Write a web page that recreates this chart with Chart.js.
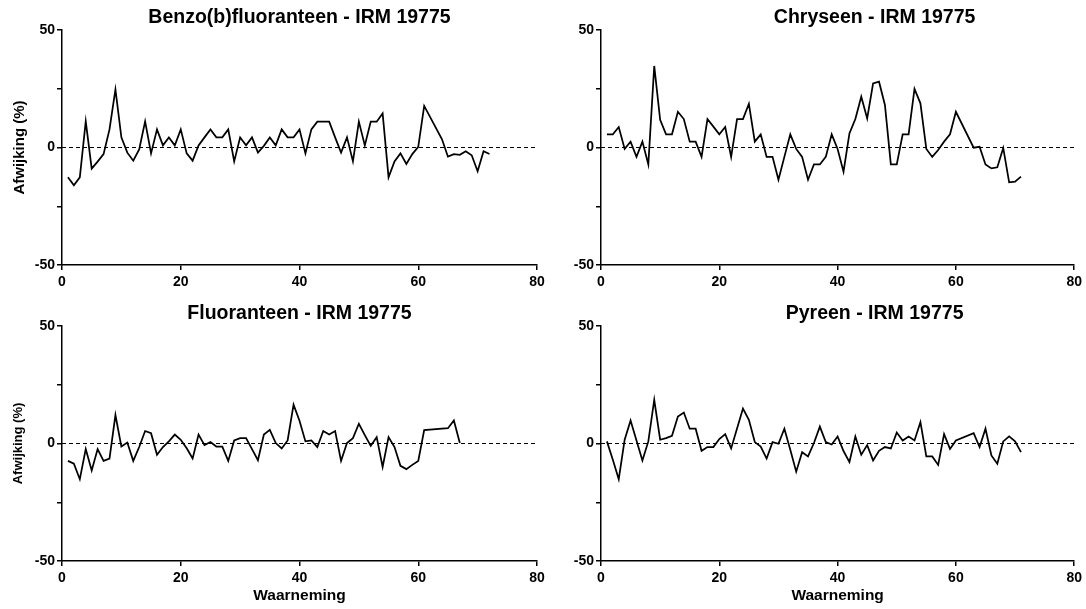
<!DOCTYPE html>
<html>
<head>
<meta charset="utf-8">
<title>Afwijking IRM 19775</title>
<script src="https://cdn.jsdelivr.net/npm/chart.js@4.4.0/dist/chart.umd.min.js"></script>
<style>
  html, body { margin: 0; padding: 0; background: #fff; }
  #wrap { position: relative; width: 1086px; height: 609px; overflow: hidden; }
  #wrap canvas { position: absolute; }
</style>
</head>
<body>
<div id="wrap">
  <canvas id="benzo" width="560" height="300" style="left:0;top:0"></canvas>
  <canvas id="chryseen" width="546" height="300" style="left:540px;top:0"></canvas>
  <canvas id="fluoranteen" width="560" height="313" style="left:0;top:296px"></canvas>
  <canvas id="pyreen" width="546" height="313" style="left:540px;top:296px"></canvas>
</div>
<script>
  'use strict';

  // Afwijking (%) per waarneming; null = geen meting
  var benzoValues = [
    -12.7, -16.1, -12.7, 11.1, -9.0, -6.0, -2.8, 7.7, 24.7, 4.3,
    -2.2, -5.6, -0.8, 11.1, -2.5, 7.7, 0.9, 4.3, 0.9, 7.7,
    -2.5, -5.6, 0.9, 4.3, 7.7, 4.3, 4.3, 7.7, -5.9, 4.3,
    0.9, 4.3, -2.2, 0.7, 4.3, 0.9, 7.7, 4.3, 4.3, 7.7,
    -2.5, 7.7, 11.0, 11.0, 11.0, 4.3, -2.2, 4.3, -5.9, 11.0,
    0.9, 11.0, 11.0, 14.5, -12.7, -5.9, -2.5, -7.0, -2.8, 0.3,
    17.7, null, null, 3.5, -3.9, -2.8, -3.1, -1.6, -3.3, -10.1,
    -1.6, -2.8
  ];
  var chryseenValues = [
    5.6, 5.6, 8.7, -0.6, 2.5, -4.0, 2.5, -7.2, 34.7, 11.8,
    5.6, 5.6, 15.2, 12.1, 2.5, 2.5, -4.0, 12.1, 8.9, 5.6,
    8.7, -4.0, 12.1, 12.1, 18.6, 2.5, 5.6, -4.0, -4.0, -13.7,
    -4.0, 5.6, -0.6, -4.0, -13.7, -7.2, -7.2, -4.0, 5.6, -0.6,
    -10.3, 6.0, 12.1, 21.6, 12.4, 27.3, 28.0, 18.1, -7.2, -7.2,
    5.6, 5.6, 24.9, 18.8, -0.6, -4.0, -1.1, 2.5, 5.6, 15.2,
    null, null, -0.1, 0.3, -7.2, -8.9, -8.4, -0.2, -14.8, -14.5,
    -12.4
  ];
  var fluoranteenValues = [
    -7.4, -8.6, -15.2, -2.4, -11.5, -2.4, -7.4, -6.4, 12.1, -1.3,
    0.4, -7.4, -1.5, 5.3, 4.4, -4.8, -1.5, 0.9, 3.8, 1.6,
    -2.0, -6.4, 3.8, -0.7, 0.6, -1.3, -1.3, -7.4, 1.3, 2.3,
    2.3, -2.4, -7.1, 3.8, 5.8, 0.2, -2.1, 1.3, 16.5, 9.7,
    0.9, 1.3, -1.5, 5.3, 3.8, 5.3, -7.4, 0.2, 2.3, 8.4,
    3.6, -1.0, 2.7, -10.0, 2.7, -1.5, -9.5, -10.9, -9.1, -7.4,
    5.7, null, null, null, 6.5, 9.8, 0.2
  ];
  var pyreenValues = [
    0.9, -6.9, -15.2, 1.6, 9.8, 1.3, -7.2, 0.9, 18.6, 1.6,
    2.3, 3.3, 11.5, 13.2, 6.3, 6.3, -3.1, -1.5, -1.5, 1.9,
    4.0, -2.1, 6.4, 14.9, 10.1, 0.6, -1.3, -6.4, 0.6, -0.1,
    6.3, -2.7, -12.0, -3.7, -5.5, 0.2, 7.2, 0.6, -0.4, 3.0,
    -3.2, -7.9, 3.0, -4.8, -0.7, -7.2, -3.1, -1.5, -2.1, 4.7,
    1.3, 3.0, 1.3, 9.1, -5.5, -5.5, -9.1, 4.0, -2.3, 1.3,
    null, null, 4.4, -1.5, 6.3, -5.1, -8.6, 0.9, 3.0, 0.9,
    -3.7
  ];

  var xTicks = [0, 20, 40, 60, 80];
  var yTicks = [-50, 0, 50];

  var FONT = "'Liberation Sans', Arial, Helvetica, sans-serif";

  // observation numbers start at 1
  function toPoints(values) {
    return values.map(function (v, i) {
      return {x: i + 1, y: v};
    });
  }

  // moves the title block sideways after layout (px)
  var titleShift = {
    id: 'titleShift',
    afterLayout: function (chart, args, options) {
      var dx = options.dx || 0;
      if (chart.titleBlock && dx) {
        chart.titleBlock.left += dx;
        chart.titleBlock.right += dx;
      }
    }
  };

  function drawPanel(id, title, values, opts) {
    var yTitle = opts.yTitle || '';
    var xTitle = opts.xTitle || '';

    return new Chart(document.getElementById(id), {
      type: 'line',
      data: {
        datasets: [
          {
            data: toPoints(values),
            borderColor: '#000',
            borderWidth: 1.75,
            pointRadius: 0,
            tension: 0,
            spanGaps: true
          },
          {
            // nullijn
            data: [{x: xTicks[0], y: 0}, {x: xTicks[xTicks.length - 1], y: 0}],
            borderColor: '#000',
            borderWidth: 1,
            borderDash: [4, 3],
            pointRadius: 0
          }
        ]
      },
      plugins: [titleShift],
      options: {
        responsive: false,
        animation: false,
        events: [],
        layout: {padding: {left: 0, right: opts.padRight, top: 0, bottom: 0}},
        plugins: {
          legend: {display: false},
          tooltip: {enabled: false},
          titleShift: {dx: opts.titleDx || 0},
          title: {
            display: true,
            text: title,
            fullSize: false,
            color: '#000',
            font: {family: FONT, size: 19.5, weight: 'bold', lineHeight: 1.2},
            padding: {top: 6, bottom: 0.6}
          }
        },
        scales: {
          x: {
            type: 'linear',
            min: xTicks[0],
            max: xTicks[xTicks.length - 1],
            afterBuildTicks: function (scale) {
              scale.ticks = xTicks.map(function (v) { return {value: v}; });
            },
            afterFit: function (scale) { scale.height = opts.xHeight; },
            grid: {drawOnChartArea: false, tickLength: 5, color: '#000', lineWidth: 1.5},
            border: {color: '#000', width: 1.5},
            ticks: {
              color: '#000',
              padding: 4,
              maxRotation: 0,
              font: {family: FONT, size: 14, weight: 'bold'}
            },
            title: {
              display: xTitle !== '',
              text: xTitle,
              color: '#000',
              font: {family: FONT, size: 15.5, weight: 'bold'},
              padding: {top: 0, bottom: 4}
            }
          },
          y: {
            min: -50,
            max: 50,
            afterBuildTicks: function (scale) {
              scale.ticks = [-50, -25, 0, 25, 50].map(function (v) { return {value: v}; });
            },
            afterFit: function (scale) { scale.width = opts.yWidth; },
            grid: {drawOnChartArea: false, tickLength: 5, color: '#000', lineWidth: 1.5},
            border: {color: '#000', width: 1.5},
            ticks: {
              color: '#000',
              padding: 2,
              font: {family: FONT, size: 14, weight: 'bold'},
              callback: function (v) { return yTicks.indexOf(v) >= 0 ? String(v) : ''; }
            },
            title: {
              display: yTitle !== '',
              text: yTitle,
              color: '#000',
              font: {family: FONT, size: opts.yTitleSize || 15, weight: 'bold'},
              padding: {top: 11, bottom: 0}
            }
          }
        }
      }
    });
  }

  drawPanel('benzo', 'Benzo(b)fluoranteen - IRM 19775', benzoValues,
    {yTitle: 'Afwijking (%)', yWidth: 62, xHeight: 35, padRight: 23});
  drawPanel('chryseen', 'Chryseen - IRM 19775', chryseenValues,
    {yWidth: 61, xHeight: 35, padRight: 11, titleDx: 37});
  drawPanel('fluoranteen', 'Fluoranteen - IRM 19775', fluoranteenValues,
    {yTitle: 'Afwijking (%)', yTitleSize: 13, xTitle: 'Waarneming', yWidth: 62, xHeight: 48, padRight: 23});
  drawPanel('pyreen', 'Pyreen - IRM 19775', pyreenValues,
    {xTitle: 'Waarneming', yWidth: 61, xHeight: 48, padRight: 11, titleDx: 37});
</script>
</body>
</html>
